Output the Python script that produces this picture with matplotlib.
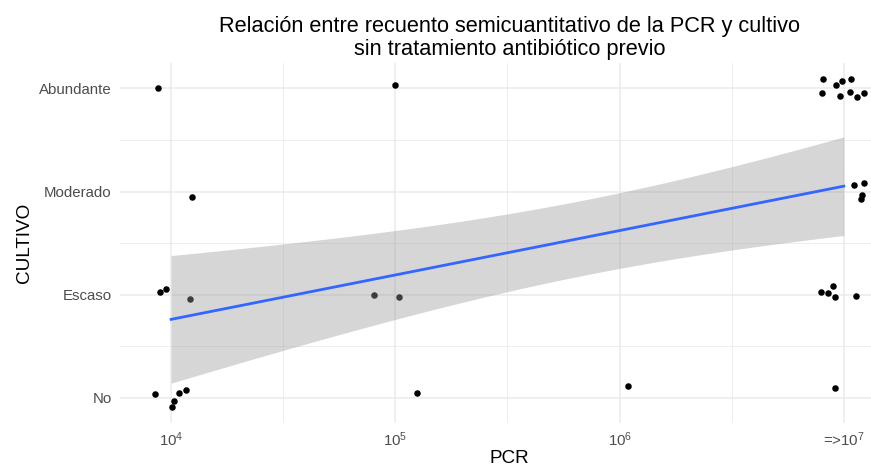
import numpy as np
import matplotlib
matplotlib.use("Agg")
import matplotlib.pyplot as plt

plt.rcParams['font.family'] = ['Liberation Sans', 'DejaVu Sans']
plt.rcParams['mathtext.fontset'] = 'custom'
plt.rcParams['mathtext.rm'] = 'Liberation Sans'
plt.rcParams['mathtext.it'] = 'Liberation Sans:italic'

# categories on the y axis (1..4)
cultivo_levels = ['No', 'Escaso', 'Moderado', 'Abundante']
x_tick_labels = ['$10^4$', '$10^5$', '$10^6$', '=>$10^7$']

# jittered positions: log10(PCR) and cultivo level
pcr_log = [3.942, 4.997, 4.095, 3.950, 3.975, 4.083, 4.906, 5.015,
           3.930, 4.003, 4.012, 4.037, 4.065, 5.098, 6.036,
           6.908, 6.902, 6.964, 6.994, 7.033, 6.982, 7.028, 7.057, 7.088,
           7.045, 7.088, 7.082, 7.075,
           6.897, 6.930, 6.952, 6.961, 7.055,
           6.960]
cultivo = [4.007, 4.036, 2.945, 2.026, 2.051, 1.955, 1.997, 1.974,
           1.036, 0.916, 0.974, 1.051, 1.077, 1.051, 1.116,
           4.087, 3.952, 4.029, 4.071, 4.087, 3.926, 3.968, 3.916, 3.955,
           3.065, 3.081, 2.971, 2.932,
           2.029, 2.019, 2.087, 1.977, 1.990,
           1.100]

pcr_log = np.array(pcr_log)
cultivo = np.array(cultivo)

# the smooth uses the original (un-jittered) values
x0 = np.round(pcr_log)
y0 = np.round(cultivo)
n = len(x0)
slope, intercept = np.polyfit(x0, y0, 1)
resid = y0 - (slope * x0 + intercept)
s = np.sqrt(np.sum(resid ** 2) / (n - 2))
sxx = np.sum((x0 - x0.mean()) ** 2)
t_crit = 2.037  # t(0.975, df=32)
xs = np.linspace(x0.min(), x0.max(), 80)
fit = slope * xs + intercept
se = s * np.sqrt(1 / n + (xs - x0.mean()) ** 2 / sxx)
lo, hi = fit - t_crit * se, fit + t_crit * se

W, H = 871, 465
fig = plt.figure(figsize=(W / 100, H / 100), dpi=100)
ax = fig.add_axes([120 / W, (H - 423) / H, (899 - 120) / W, (423 - 63) / H])

ax.scatter(10 ** pcr_log, cultivo, s=22, color='black', linewidths=0, zorder=3)
ax.fill_between(10 ** xs, lo, hi, color='#999999', alpha=0.4, linewidth=0, zorder=4)
ax.plot(10 ** xs, fit, color='#3366FF', lw=2.0, zorder=5)

ax.set_xscale('log')
ax.set_xlim(10 ** 3.772, 10 ** 7.246)
ax.set_ylim(0.757, 4.246)

ax.set_xticks([1e4, 1e5, 1e6, 1e7])
ax.set_xticklabels(x_tick_labels)
ax.set_xticks([10 ** 4.5, 10 ** 5.5, 10 ** 6.5], minor=True)
ax.xaxis.set_minor_formatter(plt.NullFormatter())
ax.set_yticks([1, 2, 3, 4])
ax.set_yticklabels(cultivo_levels)
ax.set_yticks([1.5, 2.5, 3.5], minor=True)

ax.grid(True, which='major', color='#EBEBEB', lw=1.1)
ax.grid(True, which='minor', color='#EBEBEB', lw=0.6)
ax.set_axisbelow(True)
for sp in ax.spines.values():
    sp.set_visible(False)
ax.tick_params(which='both', length=0)
ax.tick_params(axis='y', pad=6, labelsize=10.8, labelcolor='#4D4D4D')
ax.tick_params(axis='x', pad=5, labelsize=10.8, labelcolor='#4D4D4D')

fig.text(509 / W, 1 - 458 / H, 'PCR', fontsize=13.6, ha='center', va='center')
fig.text(24 / W, 1 - 243 / H, 'CULTIVO', fontsize=13.6, rotation=90,
         ha='center', va='center')
ax.set_title('Relación entre recuento semicuantitativo de la PCR y cultivo\n'
             'sin tratamiento antibiótico previo', fontsize=15.7, pad=6,
             linespacing=1.1)

fig.savefig('out.png', dpi=100)
